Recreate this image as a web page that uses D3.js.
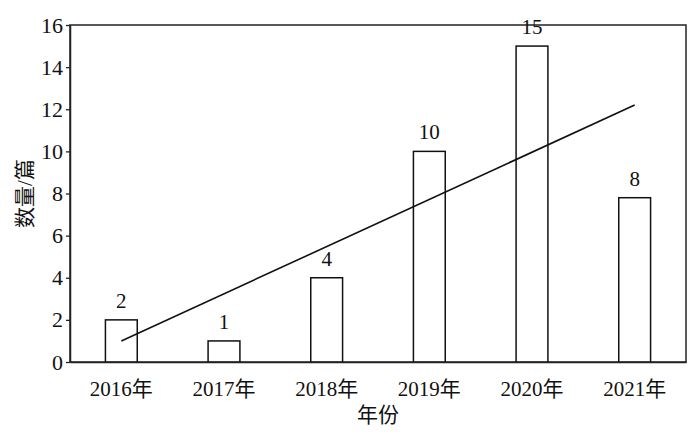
<!DOCTYPE html>
<html>
<head>
<meta charset="utf-8">
<script src="https://cdn.jsdelivr.net/npm/d3@7/dist/d3.min.js"></script>
<style>
  body { margin: 0; background: #fff; }
  svg text { font-family: "Liberation Serif", "Noto Sans CJK SC", serif; fill: #111; }
</style>
</head>
<body>
<script>
// data
var years = ["2016年", "2017年", "2018年", "2019年", "2020年", "2021年"];
var counts = [2, 1, 4, 10, 15, 7.8];
var countLabels = ["2", "1", "4", "10", "15", "8"];
var yTicks = [0, 2, 4, 6, 8, 10, 12, 14, 16];
var trendStart = 1.0,   // trend value at 2016
    trendEnd = 12.2;    // trend value at 2021

var w = 700,
    h = 440;
var margin = {top: 25, right: 14, bottom: 78, left: 70},
    width = w - margin.left - margin.right,
    height = h - margin.top - margin.bottom;

var svg = d3.select("body").append("svg")
    .attr("width", w)
    .attr("height", h)
  .append("g")
    .attr("transform", "translate(" + margin.left + "," + margin.top + ")");

var xScale = d3.scaleBand()
    .domain(years)
    .range([0, width])
    .paddingInner(0.69)
    .paddingOuter(0.345);

var yScale = d3.scaleLinear()
    .domain([0, 16])
    .range([height, 0]);

// frame (top + right)
svg.append("rect")
    .attr("width", width)
    .attr("height", height)
    .attr("fill", "none")
    .attr("stroke", "#222")
    .attr("stroke-width", 1.5);

// bars
svg.selectAll(".bar")
    .data(counts)
  .enter().append("rect")
    .attr("class", "bar")
    .attr("x", function(d, i) { return xScale(years[i]); })
    .attr("y", function(d) { return yScale(d); })
    .attr("width", xScale.bandwidth())
    .attr("height", function(d) { return height - yScale(d); })
    .attr("fill", "#fff")
    .attr("stroke", "#111")
    .attr("stroke-width", 1.5);

// value labels
svg.selectAll(".val")
    .data(counts)
  .enter().append("text")
    .attr("class", "val")
    .attr("x", function(d, i) { return xScale(years[i]) + xScale.bandwidth() / 2; })
    .attr("y", function(d) { return yScale(d) - 12; })
    .attr("text-anchor", "middle")
    .attr("font-size", "21px")
    .text(function(d, i) { return countLabels[i]; });

// trend line
var half = xScale.bandwidth() / 2;
svg.append("line")
    .attr("x1", xScale(years[0]) + half)
    .attr("y1", yScale(trendStart))
    .attr("x2", xScale(years[years.length - 1]) + half)
    .attr("y2", yScale(trendEnd))
    .attr("stroke", "#111")
    .attr("stroke-width", 1.6);

// axes
var xAxis = svg.append("g")
    .attr("transform", "translate(0," + height + ")")
    .call(d3.axisBottom(xScale).tickSize(0).tickPadding(19));
xAxis.select(".domain").attr("stroke", "#222").attr("stroke-width", 1.5);
xAxis.selectAll("text").attr("font-size", "21px");

var yAxis = svg.append("g")
    .call(d3.axisLeft(yScale).tickValues(yTicks).tickSize(4).tickSizeOuter(0).tickPadding(3));
yAxis.select(".domain").attr("stroke", "#222").attr("stroke-width", 1.5);
yAxis.selectAll(".tick line").attr("stroke", "#222").attr("stroke-width", 1.3);
yAxis.selectAll("text").attr("font-size", "22px");

// axis titles
svg.append("text")
    .attr("x", width / 2)
    .attr("y", height + 60)
    .attr("text-anchor", "middle")
    .attr("font-size", "21px")
    .text("年份");

svg.append("text")
    .attr("transform", "translate(" + (-38) + "," + (height / 2) + ") rotate(-90)")
    .attr("text-anchor", "middle")
    .attr("font-size", "21px")
    .text("数量/篇");
</script>
</body>
</html>
